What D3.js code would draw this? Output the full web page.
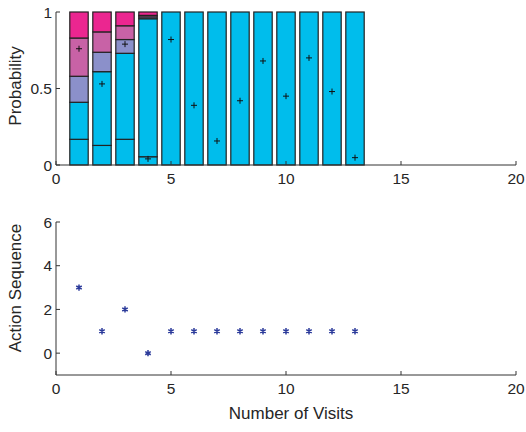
<!DOCTYPE html>
<html>
<head>
<meta charset="utf-8">
<script src="https://cdn.jsdelivr.net/npm/d3@7"></script>
<style>
  body { margin: 0; background: #fff; }
  text { font-family: "Liberation Sans", Arial, sans-serif; fill: #262626; }
</style>
</head>
<body>
<div id="chart"></div>
<script>
// visits 1..13
var visits = [1, 2, 3, 4, 5, 6, 7, 8, 9, 10, 11, 12, 13];
// stacked state probabilities (bottom to top)
var pA = [0.168, 0.128, 0.168, 0.054, 1, 1, 1, 1, 1, 1, 1, 1, 1];
var pB = [0.242, 0.482, 0.562, 0.902, 0, 0, 0, 0, 0, 0, 0, 0, 0];
var pC = [0.170, 0.127, 0.090, 0.012, 0, 0, 0, 0, 0, 0, 0, 0, 0];
var pD = [0.250, 0.133, 0.090, 0.010, 0, 0, 0, 0, 0, 0, 0, 0, 0];
var pE = [0.170, 0.130, 0.090, 0.022, 0, 0, 0, 0, 0, 0, 0, 0, 0];
var seriesColors = ["#00bdec", "#00bdec", "#8b90ca", "#c862a6", "#eb2690"];
// '+' markers
var plusVals = [0.76, 0.53, 0.79, 0.04, 0.82, 0.39, 0.157, 0.42, 0.68, 0.45, 0.70, 0.48, 0.048];
// action sequence
var actions = [3, 1, 2, 0, 1, 1, 1, 1, 1, 1, 1, 1, 1];

var xTicks = [0, 5, 10, 15, 20];
var yTicksTop = [0, 0.5, 1];
var yTicksBot = [0, 2, 4, 6];

var width = 526, height = 432;
var svg = d3.select("#chart").append("svg")
  .attr("width", width).attr("height", height);

var x = d3.scaleLinear().domain([0, 20]).range([56, 516]);
var yTop = d3.scaleLinear().domain([0, 1]).range([165, 12]);
var yBot = d3.scaleLinear().domain([-1, 6]).range([375, 222]);

// stacked bars
var rows = visits.map(function(v, i) {
  return { v: v, a: pA[i], b: pB[i], c: pC[i], d: pD[i], e: pE[i] };
});
var stack = d3.stack().keys(["a", "b", "c", "d", "e"])(rows);
var bw = x(0.8) - x(0);

var gBars = svg.append("g");
stack.forEach(function(layer, k) {
  gBars.selectAll(null)
    .data(layer.filter(function(d) { return d[1] - d[0] > 0; }))
    .enter().append("rect")
      .attr("x", function(d) { return x(d.data.v) - bw / 2; })
      .attr("width", bw)
      .attr("y", function(d) { return yTop(d[1]); })
      .attr("height", function(d) { return yTop(d[0]) - yTop(d[1]); })
      .attr("fill", seriesColors[k])
      .attr("stroke", "#222")
      .attr("stroke-width", 1.2);
});

// plus markers
svg.append("g").selectAll("path")
  .data(visits)
  .enter().append("path")
    .attr("d", function(v, i) {
      var cx = x(v), cy = yTop(plusVals[i]), s = 3;
      return "M" + (cx - s) + "," + cy + "H" + (cx + s) + "M" + cx + "," + (cy - s) + "V" + (cy + s);
    })
    .attr("stroke", "#111").attr("stroke-width", 1);

// axes helper (MATLAB style: inward ticks, no box)
function drawAxes(y, yTicks) {
  var g = svg.append("g");
  var x0 = x.range()[0], x1 = x.range()[1];
  var yb = y.range()[0], yt = y.range()[1];
  g.append("path")
    .attr("d", "M" + x0 + "," + yt + "V" + yb + "H" + x1)
    .attr("fill", "none").attr("stroke", "#333").attr("stroke-width", 1);
  xTicks.forEach(function(t) {
    g.append("line").attr("x1", x(t)).attr("x2", x(t))
      .attr("y1", yb).attr("y2", yb - 4).attr("stroke", "#333");
    g.append("text").attr("x", x(t)).attr("y", yb + 19)
      .attr("text-anchor", "middle").attr("font-size", 15.5).text(t);
  });
  yTicks.forEach(function(t) {
    g.append("line").attr("x1", x0).attr("x2", x0 + 4)
      .attr("y1", y(t)).attr("y2", y(t)).attr("stroke", "#333");
    g.append("text").attr("x", x0 - 4).attr("y", y(t) + 5.5)
      .attr("text-anchor", "end").attr("font-size", 15.5).text(t);
  });
}
drawAxes(yTop, yTicksTop);
drawAxes(yBot, yTicksBot);

// asterisk markers
svg.append("g").selectAll("path")
  .data(visits)
  .enter().append("path")
    .attr("transform", function(v, i) { return "translate(" + x(v) + "," + yBot(actions[i]) + ")"; })
    .attr("d", d3.symbol().type(d3.symbolAsterisk).size(28))
    .attr("fill", "none").attr("stroke", "#2b3a9a").attr("stroke-width", 1.5);

// labels
svg.append("text").attr("transform", "translate(21,86) rotate(-90)")
  .attr("text-anchor", "middle").attr("font-size", 17).text("Probability");
svg.append("text").attr("transform", "translate(21,288) rotate(-90)")
  .attr("text-anchor", "middle").attr("font-size", 17).text("Action Sequence");
svg.append("text").attr("x", 291).attr("y", 419)
  .attr("text-anchor", "middle").attr("font-size", 17).text("Number of Visits");
</script>
</body>
</html>
